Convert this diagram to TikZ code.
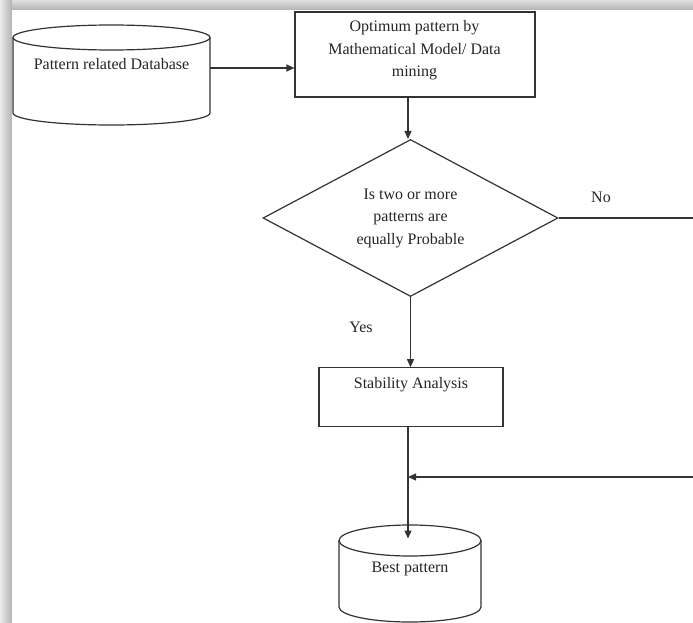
\documentclass[tikz,border=0pt]{standalone}
\usepackage{fontspec}
\setmainfont{Liberation Serif}
\usetikzlibrary{arrows.meta,shapes.geometric}
\begin{document}
\begin{tikzpicture}[x=1pt,y=-1pt,
  ln/.style={draw=black!80, line width=1.2pt},
  arr/.style={ln, -{Triangle[length=8pt,width=7pt]}},
  txt/.style={align=center, inner sep=0pt, font=\fontsize{16}{22.5}\selectfont, text=black!85},
  boxshape/.style={ln, rectangle, inner sep=0pt},
  decshape/.style={ln, diamond, aspect=1.88, inner sep=0pt, minimum width=295pt, minimum height=157pt, align=center, font=\fontsize{16}{22.5}\selectfont, text=black!85},
  ghost/.style={rectangle, inner sep=0pt}
]
% page and shadow frame
\useasboundingbox (0,0) rectangle (693,623);
\fill[white] (0,0) rectangle (693,623);
\shade[top color=black!12, bottom color=black!30] (0,0) rectangle (693,10);
\shade[left color=black!8, right color=black!30] (0,0) rectangle (12,623);
\fill[white] (12,10) rectangle (693,623);

% top-left database cylinder
\node[ghost, minimum width=198pt, minimum height=100pt] (db) at (111.5,75) {};
\draw[ln, fill=white] (13,37.5) -- (13,113) arc[start angle=180, end angle=360, x radius=98.5pt, y radius=12pt] -- (210,37.5);
\draw[ln] (111.5,37.5) ellipse[x radius=98.5pt, y radius=12.5pt];
\node[txt] (dbtxt) at (111.5,64) {Pattern related Database};
\coordinate (dbR) at (210,68);

% top box
\node[boxshape, minimum width=240pt, minimum height=85pt] (top) at (415,54.5) {};
\node[txt] (toptxt) at (414.5,50.5) {Optimum pattern by\\Mathematical Model/ Data\\mining};

% decision diamond
\node[decshape] (dec) at (410.5,218) {Is two or more\\patterns are\\equally Probable};
\node[txt] (no) at (601,197.5) {No};
\node[txt] (yes) at (361,327) {Yes};
\coordinate (noEnd) at (693,218);

% stability box
\node[boxshape, minimum width=184pt, minimum height=58.5pt] (stab) at (411,397) {};
\node[txt] (stabtxt) at (411,384.5) {Stability Analysis};

% best pattern cylinder
\node[ghost, minimum width=142pt, minimum height=97pt] (best) at (410,573.5) {};
\draw[ln, fill=white] (339,540.5) -- (339,607) arc[start angle=180, end angle=360, x radius=71pt, y radius=15pt] -- (481,540.5);
\draw[ln] (410,540.5) ellipse[x radius=71pt, y radius=15.5pt];
\node[txt] (besttxt) at (410,569) {Best pattern};
\coordinate (bestIn) at (408,538.5);
\coordinate (joinR) at (693,477);

% connectors
\draw[arr] (dbR) -- (dbR -| top.west);
\draw[arr] (top.south -| 408,0) -- (408,139);
\draw[ln] (dec.east) -- (noEnd);
\draw[arr] (dec.south) -- (stab.north -| dec.south);
\draw[arr] (stab.south -| bestIn) -- (bestIn);
\draw[arr] (joinR) -- (joinR -| bestIn);
\end{tikzpicture}
\end{document}
